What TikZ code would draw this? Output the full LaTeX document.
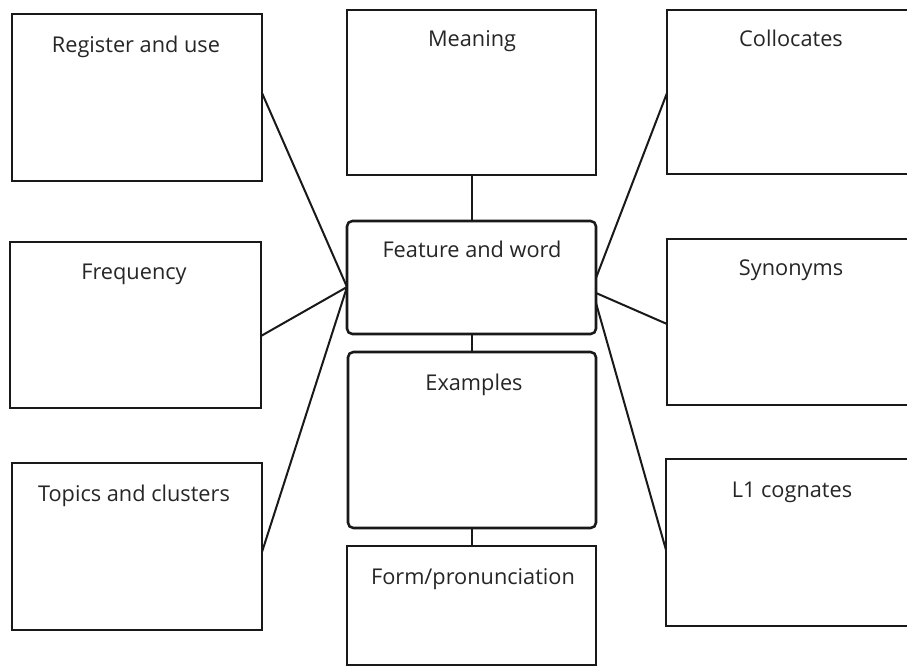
\documentclass[tikz,border=0pt]{standalone}
\usepackage{fontspec}
\setmainfont{Open Sans}
\usetikzlibrary{fit,calc}
\begin{document}
\begin{tikzpicture}[x=0.75pt,y=-0.75pt,
  box/.style={draw=black!90, line width=1.9pt, inner sep=0pt, outer sep=0pt, fill=white},
  rbox/.style={box, rounded corners=4pt},
  lbl/.style={anchor=base, inner sep=0pt, font=\fontsize{16.3}{19}\selectfont, text=black!85},
  link/.style={draw=black!90, line width=1.5pt}]
\useasboundingbox (0,0) rectangle (907,666);
\clip (0,0) rectangle (907,666);
\fill[white] (0,0) rectangle (907,666);
% boxes
\node[box,  fit={(12,14)(262,181)}]   (reg)   {};
\node[box,  fit={(10,242)(261,408)}]  (freq)  {};
\node[box,  fit={(12,463)(262,630)}]  (top)   {};
\node[box,  fit={(347,10)(596,175)}]  (mean)  {};
\node[rbox, fit={(347,221)(596,334)}] (feat)  {};
\node[rbox, fit={(348,352)(596,528)}] (ex)    {};
\node[box,  fit={(347,546)(596,665)}] (form)  {};
\node[box,  fit={(667,10)(915,174)}]  (coll)  {};
\node[box,  fit={(667,239)(915,405)}] (syn)   {};
\node[box,  fit={(666,459)(915,626)}] (cog)   {};
% labels
\node[lbl] (treg)  at (136,53)  {Register and use};
\node[lbl] (tfreq) at (134,280) {Frequency};
\node[lbl] (ttop)  at (134,501) {Topics and clusters};
\node[lbl] (tmean) at (472,47)  {Meaning};
\node[lbl] (tfeat) at (472,258) {Feature and word};
\node[lbl] (tex)   at (474,391) {Examples};
\node[lbl] (tform) at (473,584) {Form/pronunciation};
\node[lbl] (tcoll) at (791,47)  {Collocates};
\node[lbl] (tsyn)  at (791,276) {Synonyms};
\node[lbl] (tcog)  at (792,498) {L1 cognates};
% hub points on the central box
\coordinate (hl) at ($(feat.west)+(0,9.5)$);
\coordinate (hr1) at ($(feat.east)+(0,0.5)$);
\coordinate (hr2) at ($(feat.east)+(0,15.5)$);
\coordinate (hr3) at ($(feat.east)+(0,25.5)$);
% connectors
\draw[link] ($(reg.east)+(0,-4.5)$) -- (hl);
\draw[link] ($(freq.east)+(0,11)$) -- (hl);
\draw[link] ($(top.east)+(0,5.5)$) -- (hl);
\draw[link] ($(coll.west)+(0,1)$) -- (hr1);
\draw[link] ($(syn.west)+(0,2)$) -- (hr2);
\draw[link] ($(cog.west)+(0,7.5)$) -- (hr3);
\draw[link] (mean.south) -- (mean.south |- feat.north);
\draw[link] (feat.south) -- (feat.south |- ex.north);
\draw[link] (ex.south) -- (ex.south |- form.north);
\end{tikzpicture}
\end{document}
